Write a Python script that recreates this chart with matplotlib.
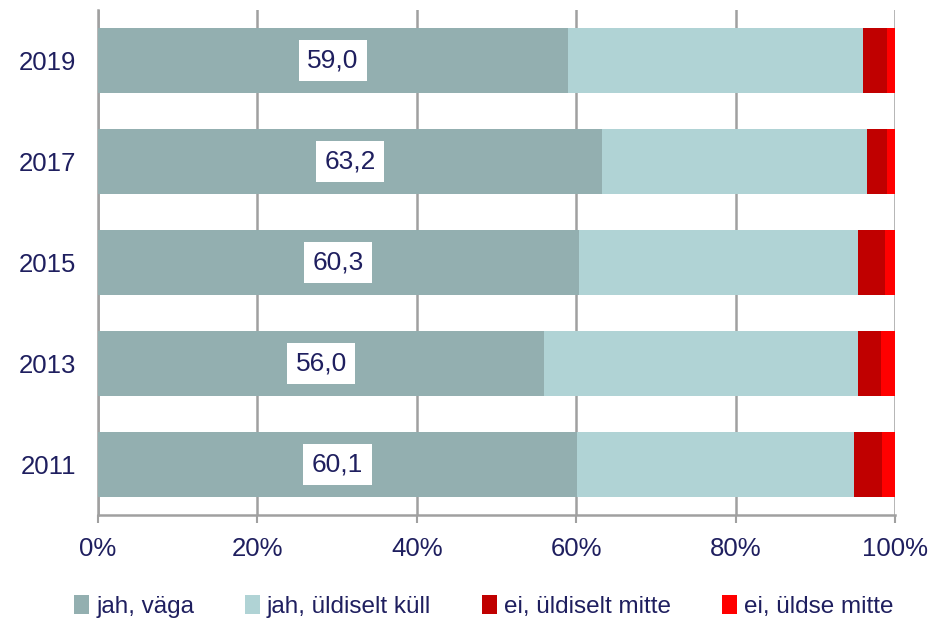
import numpy as np
import matplotlib.pyplot as plt

plt.rcParams['font.family'] = ['Liberation Sans', 'DejaVu Sans']

years = ['2011', '2013', '2015', '2017', '2019']
jah_vaga = [60.1, 56.0, 60.3, 63.2, 59.0]
jah_kull = [34.7, 39.3, 35.1, 33.3, 37.0]
ei_mitte = [3.6, 2.9, 3.3, 2.5, 3.0]
ei_uldse = [1.6, 1.8, 1.3, 1.0, 1.0]

series = [jah_vaga, jah_kull, ei_mitte, ei_uldse]
names = ['jah, väga', 'jah, üldiselt küll', 'ei, üldiselt mitte', 'ei, üldse mitte']
colors = ['#93AFB0', '#B0D3D5', '#C00000', '#FF0000']
txt = '#1F1F5F'

fig = plt.figure(figsize=(9.47, 6.18), dpi=100)
ax = fig.add_axes([98/947, 1-515/618, (895-98)/947, (515-10)/618])

y = np.arange(len(years))
left = np.zeros(len(years))
for vals, nm, c in zip(series, names, colors):
    ax.barh(y, vals, left=left, height=0.65, color=c, label=nm, zorder=3)
    left += np.array(vals)

for yi, v in zip(y, jah_vaga):
    ax.text(v/2, yi, f'{v:.1f}'.replace('.', ','), ha='center', va='center',
            fontsize=19, color=txt, zorder=4,
            bbox=dict(facecolor='white', edgecolor='none', pad=6))

ax.set_xlim(0, 100)
ax.set_ylim(-0.5, 4.5)
ax.set_xticks(range(0, 101, 20))
ax.set_xticklabels([f'{t}%' for t in range(0, 101, 20)])
ax.set_yticks(y)
ax.set_yticklabels(years)
ax.tick_params(axis='x', colors='#A0A0A0', labelcolor=txt, labelsize=18.5, length=6, width=1.5, pad=10)
ax.tick_params(axis='y', length=0, labelcolor=txt, labelsize=18.5, pad=16)
ax.grid(axis='x', color='#A0A0A0', linewidth=1.8, zorder=0)
for s in ['top', 'right']:
    ax.spines[s].set_visible(False)
ax.spines['left'].set_color('#A0A0A0')
ax.spines['left'].set_linewidth(1.8)
ax.spines['bottom'].set_color('#A0A0A0')
ax.spines['bottom'].set_linewidth(1.8)

leg = fig.legend(loc='lower center', bbox_to_anchor=(0.511, -0.035), ncol=4, frameon=False,
                 fontsize=17.5, handlelength=0.6, handleheight=0.8, handletextpad=0.3,
                 columnspacing=2.1)
for t in leg.get_texts():
    t.set_color(txt)

fig.savefig('out.png', dpi=100)
